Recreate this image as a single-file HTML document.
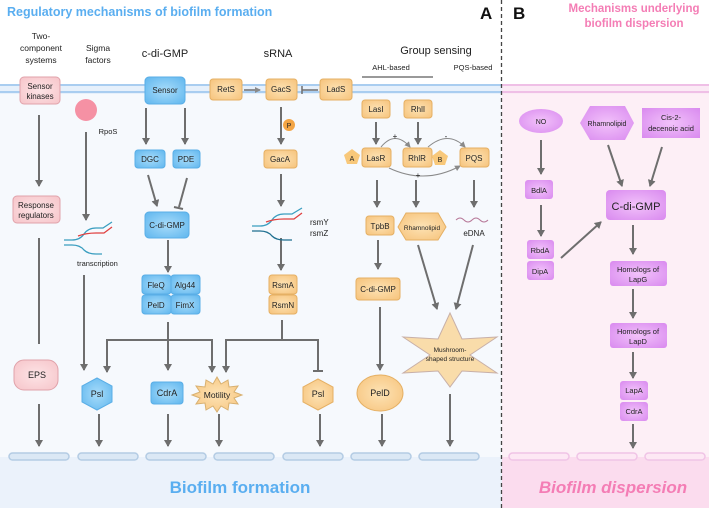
<!DOCTYPE html>
<html><head><meta charset="utf-8"><style>
html,body{margin:0;padding:0;width:709px;height:508px;overflow:hidden;background:#fff}
svg{display:block;font-family:"Liberation Sans",sans-serif}
</style></head><body>
<svg width="709" height="508" viewBox="0 0 709 508" xmlns="http://www.w3.org/2000/svg">
<defs>
<marker id="ar" markerWidth="8" markerHeight="8" refX="6" refY="4" orient="auto" markerUnits="userSpaceOnUse"><path d="M0,0 L7,4 L0,8 Z" fill="#6e6e6e"/></marker>
<marker id="ars" markerWidth="6" markerHeight="6" refX="5" refY="3" orient="auto" markerUnits="userSpaceOnUse"><path d="M0,0 L6,3 L0,6 Z" fill="#8a8a8a"/></marker>
<radialGradient id="gb" cx="50%" cy="50%" r="70%"><stop offset="0" stop-color="#a8dcfa"/><stop offset="1" stop-color="#5fb6ee"/></radialGradient>
<radialGradient id="go" cx="50%" cy="50%" r="70%"><stop offset="0" stop-color="#fde3b5"/><stop offset="1" stop-color="#f6c27a"/></radialGradient>
<radialGradient id="gv" cx="50%" cy="50%" r="70%"><stop offset="0" stop-color="#f2c2fa"/><stop offset="1" stop-color="#d98aef"/></radialGradient>
<radialGradient id="gp" cx="50%" cy="50%" r="70%"><stop offset="0" stop-color="#fde4e6"/><stop offset="1" stop-color="#f6c4c9"/></radialGradient>
</defs>
<!-- backgrounds -->
<rect x="0" y="0" width="502" height="508" fill="#f6f9fd"/>
<rect x="0" y="457" width="502" height="51" fill="#ebf2fb"/>
<rect x="502" y="0" width="207" height="508" fill="#fdeff6"/>
<rect x="502" y="457" width="207" height="51" fill="#fbdcee"/>
<rect x="0" y="0" width="502" height="84" fill="#fff"/>
<rect x="502" y="0" width="207" height="84" fill="#fff"/>
<!-- membrane -->
<rect x="0" y="84" width="502" height="10" fill="#e6f0fb"/>
<line x1="0" y1="85" x2="502" y2="85" stroke="#a9cdf0" stroke-width="2"/>
<line x1="0" y1="92" x2="502" y2="92" stroke="#a9cdf0" stroke-width="2"/>
<rect x="502" y="84" width="207" height="10" fill="#fbeaf5"/>
<line x1="502" y1="85" x2="709" y2="85" stroke="#efbfe6" stroke-width="2"/>
<line x1="502" y1="92" x2="709" y2="92" stroke="#efbfe6" stroke-width="2"/>
<line x1="501.5" y1="0" x2="501.5" y2="508" stroke="#444" stroke-width="1.3" stroke-dasharray="4,3"/>

<!-- titles -->
<text x="7" y="16" font-size="12.5" font-weight="bold" fill="#5aaef0">Regulatory mechanisms of biofilm formation</text>
<text x="480" y="19" font-size="17" font-weight="bold" fill="#111">A</text>
<text x="513" y="19" font-size="17" font-weight="bold" fill="#111">B</text>
<text x="634" y="12" font-size="11.5" font-weight="bold" fill="#f47db5" text-anchor="middle">Mechanisms underlying</text>
<text x="634" y="27" font-size="11.5" font-weight="bold" fill="#f47db5" text-anchor="middle">biofilm dispersion</text>

<g font-size="8.5" fill="#222" text-anchor="middle">
<text x="41" y="39">Two-</text><text x="41" y="51">component</text><text x="41" y="63">systems</text>
<text x="98" y="51">Sigma</text><text x="98" y="63">factors</text>
<text x="165" y="57" font-size="11">c-di-GMP</text>
<text x="278" y="57" font-size="11">sRNA</text>
<text x="436" y="54" font-size="11">Group sensing</text>
<text x="391" y="70" font-size="7.5">AHL-based</text>
<text x="473" y="70" font-size="7.5">PQS-based</text>
</g>
<line x1="362" y1="77" x2="433" y2="77" stroke="#333" stroke-width="1"/>

<!-- arrows -->
<g stroke="#6e6e6e" stroke-width="2" fill="none">
<line x1="39" y1="115" x2="39" y2="186" marker-end="url(#ar)"/>
<line x1="39" y1="238" x2="39" y2="344"/>
<line x1="86" y1="132" x2="86" y2="220" marker-end="url(#ar)"/>
<line x1="84" y1="275" x2="84" y2="370" marker-end="url(#ar)"/>
<line x1="146" y1="108" x2="146" y2="144" marker-end="url(#ar)"/>
<line x1="185" y1="108" x2="185" y2="144" marker-end="url(#ar)"/>
<line x1="148" y1="175" x2="157" y2="206" marker-end="url(#ar)"/>
<line x1="187" y1="178" x2="179" y2="207"/>
<line x1="174" y1="207" x2="183" y2="209"/>
<line x1="168" y1="240" x2="168" y2="272" marker-end="url(#ar)"/>
<line x1="168" y1="322" x2="168" y2="370" marker-end="url(#ar)"/>
<polyline points="107,370 107,340 212,340 212,370"/>
<line x1="107" y1="362" x2="107" y2="372" marker-end="url(#ar)"/>
<line x1="212" y1="362" x2="212" y2="372" marker-end="url(#ar)"/>
<polyline points="282,320 282,340"/>
<polyline points="226,370 226,340 318,340 318,370"/>
<line x1="226" y1="362" x2="226" y2="372" marker-end="url(#ar)"/>
<line x1="313" y1="371" x2="323" y2="371"/>
<line x1="244" y1="90" x2="260" y2="90" stroke-width="1.5" marker-end="url(#ars)"/>
<line x1="302" y1="90" x2="318" y2="90" stroke-width="1.5"/>
<line x1="302" y1="86" x2="302" y2="94" stroke-width="1.5"/>
<line x1="281" y1="107" x2="281" y2="144" marker-end="url(#ar)"/>
<line x1="281" y1="174" x2="281" y2="206" marker-end="url(#ar)"/>
<line x1="281" y1="238" x2="281" y2="270" marker-end="url(#ar)"/>
<line x1="376" y1="122" x2="376" y2="144" marker-end="url(#ar)"/>
<line x1="418" y1="122" x2="418" y2="144" marker-end="url(#ar)"/>
<line x1="377" y1="180" x2="377" y2="207" marker-end="url(#ar)"/>
<line x1="416" y1="180" x2="416" y2="207" marker-end="url(#ar)"/>
<line x1="474" y1="180" x2="474" y2="207" marker-end="url(#ar)"/>
<line x1="378" y1="240" x2="378" y2="269" marker-end="url(#ar)"/>
<line x1="380" y1="307" x2="380" y2="370" marker-end="url(#ar)"/>
<line x1="418" y1="245" x2="437" y2="309" marker-end="url(#ar)"/>
<line x1="473" y1="245" x2="456" y2="309" marker-end="url(#ar)"/>
<!-- lower arrows -->
<line x1="39" y1="404" x2="39" y2="446" marker-end="url(#ar)"/>
<line x1="99" y1="414" x2="99" y2="446" marker-end="url(#ar)"/>
<line x1="168" y1="414" x2="168" y2="446" marker-end="url(#ar)"/>
<line x1="219" y1="414" x2="219" y2="446" marker-end="url(#ar)"/>
<line x1="320" y1="414" x2="320" y2="446" marker-end="url(#ar)"/>
<line x1="382" y1="414" x2="382" y2="446" marker-end="url(#ar)"/>
<line x1="450" y1="394" x2="450" y2="446" marker-end="url(#ar)"/>
<!-- right panel -->
<line x1="541" y1="140" x2="541" y2="174" marker-end="url(#ar)"/>
<line x1="541" y1="205" x2="541" y2="236" marker-end="url(#ar)"/>
<line x1="561" y1="258" x2="601" y2="222" marker-end="url(#ar)"/>
<line x1="608" y1="145" x2="622" y2="186" marker-end="url(#ar)"/>
<line x1="662" y1="147" x2="650" y2="186" marker-end="url(#ar)"/>
<line x1="633" y1="225" x2="633" y2="254" marker-end="url(#ar)"/>
<line x1="633" y1="289" x2="633" y2="318" marker-end="url(#ar)"/>
<line x1="633" y1="352" x2="633" y2="378" marker-end="url(#ar)"/>
<line x1="633" y1="424" x2="633" y2="448" marker-end="url(#ar)"/>
</g>
<!-- curved QS arrows -->
<g stroke="#8a8a8a" stroke-width="1" fill="none">
<path d="M381,147 Q395,130 410,147" marker-end="url(#ars)"/>
<path d="M428,147 Q448,130 465,147" marker-end="url(#ars)"/>
<path d="M389,168 Q425,185 460,166" marker-end="url(#ars)"/>
</g>
<g font-size="8" fill="#222" text-anchor="middle"><text x="395" y="139">+</text><text x="446" y="139">-</text><text x="418" y="178">+</text></g>

<!-- nodes -->
<g font-size="8" fill="#222" text-anchor="middle">
<rect x="20" y="77" width="40" height="27" rx="4" fill="url(#gp)" stroke="#e0a2aa"/>
<text x="40" y="89">Sensor</text><text x="40" y="99">kinases</text>
<circle cx="86" cy="110" r="11" fill="#f591a4"/>
<text x="108" y="134" font-size="7.5">RpoS</text>
<rect x="13" y="196" width="47" height="27" rx="4" fill="url(#gp)" stroke="#e0a2aa"/>
<text x="36" y="208">Response</text><text x="36" y="218">regulators</text>

<rect x="145" y="77" width="40" height="27" rx="4" fill="url(#gb)" stroke="#5aaee6"/>
<text x="165" y="93">Sensor</text>
<rect x="135" y="150" width="30" height="18" rx="3" fill="url(#gb)" stroke="#5aaee6"/><text x="150" y="162">DGC</text>
<rect x="173" y="150" width="27" height="18" rx="3" fill="url(#gb)" stroke="#5aaee6"/><text x="186" y="162">PDE</text>
<rect x="145" y="212" width="44" height="26" rx="4" fill="url(#gb)" stroke="#5aaee6"/><text x="167" y="228">C-di-GMP</text>
<rect x="142" y="275" width="29" height="19" rx="3" fill="url(#gb)" stroke="#5aaee6"/><text x="156" y="288">FleQ</text>
<rect x="171" y="275" width="29" height="19" rx="3" fill="url(#gb)" stroke="#5aaee6"/><text x="185" y="288">Alg44</text>
<rect x="142" y="295" width="29" height="19" rx="3" fill="url(#gb)" stroke="#5aaee6"/><text x="156" y="308">PelD</text>
<rect x="171" y="295" width="29" height="19" rx="3" fill="url(#gb)" stroke="#5aaee6"/><text x="185" y="308">FimX</text>

<rect x="210" y="79" width="32" height="21" rx="3" fill="url(#go)" stroke="#e5b064"/><text x="226" y="92">RetS</text>
<rect x="266" y="79" width="31" height="21" rx="3" fill="url(#go)" stroke="#e5b064"/><text x="281" y="92">GacS</text>
<rect x="320" y="79" width="32" height="21" rx="3" fill="url(#go)" stroke="#e5b064"/><text x="336" y="92">LadS</text>
<circle cx="289" cy="125" r="6" fill="#f3a545"/><text x="289" y="128" font-size="7">P</text>
<rect x="264" y="150" width="33" height="18" rx="3" fill="url(#go)" stroke="#e5b064"/><text x="280" y="162">GacA</text>
<text x="310" y="225" text-anchor="start">rsmY</text><text x="310" y="236" text-anchor="start">rsmZ</text>
<rect x="269" y="275" width="28" height="19" rx="3" fill="url(#go)" stroke="#e5b064"/><text x="283" y="288">RsmA</text>
<rect x="269" y="295" width="28" height="19" rx="3" fill="url(#go)" stroke="#e5b064"/><text x="283" y="308">RsmN</text>

<rect x="362" y="100" width="28" height="18" rx="3" fill="url(#go)" stroke="#e5b064"/><text x="376" y="112">LasI</text>
<rect x="404" y="100" width="28" height="18" rx="3" fill="url(#go)" stroke="#e5b064"/><text x="418" y="112">RhlI</text>
<polygon points="352,149 360,155 357,164 347,164 344,155" fill="#f8c87a"/><text x="352" y="161" font-size="7">A</text>
<rect x="362" y="148" width="29" height="19" rx="3" fill="url(#go)" stroke="#e5b064"/><text x="376" y="161">LasR</text>
<rect x="403" y="148" width="29" height="19" rx="3" fill="url(#go)" stroke="#e5b064"/><text x="417" y="161">RhlR</text>
<polygon points="440,150 448,156 445,165 435,165 432,156" fill="#f8c87a"/><text x="440" y="162" font-size="7">B</text>
<rect x="460" y="148" width="29" height="19" rx="3" fill="url(#go)" stroke="#e5b064"/><text x="474" y="161">PQS</text>
<rect x="366" y="216" width="28" height="19" rx="3" fill="url(#go)" stroke="#e5b064"/><text x="380" y="229">TpbB</text>
<polygon points="398,227 406,213 438,213 446,227 438,240 406,240" fill="url(#go)" stroke="#e5b064"/><text x="422" y="230" font-size="6.5">Rhamnolipid</text>
<path d="M456,220 q4,-4 8,0 t8,0 t8,0 t8,0" stroke="#b87a9a" stroke-width="1" fill="none"/>
<text x="474" y="236">eDNA</text>
<rect x="356" y="278" width="44" height="22" rx="3" fill="url(#go)" stroke="#e5b064"/><text x="378" y="292">C-di-GMP</text>
<polygon points="450,313 462,339 497,337 470,355 497,373 462,371 450,387 438,371 403,373 430,355 403,337 438,339" fill="#f9dcaa" stroke="#c8b0a8"/>
<text x="450" y="352" font-size="6.5">Mushroom-</text><text x="450" y="361" font-size="6.5">shaped structure</text>

<rect x="14" y="360" width="44" height="30" rx="10" fill="url(#gp)" stroke="#e0a2aa"/><text x="37" y="378" font-size="9">EPS</text>
<polygon points="97,378 112,386 112,402 97,410 82,402 82,386" fill="url(#gb)" stroke="#5aaee6"/><text x="97" y="397" font-size="9">Psl</text>
<rect x="151" y="382" width="32" height="22" rx="3" fill="url(#gb)" stroke="#5aaee6"/><text x="167" y="396" font-size="9">CdrA</text>
<polygon points="217,377 221,384 228,380 229,387 238,386 234,392 242,395 234,398 238,404 229,403 228,410 221,406 217,412 213,406 206,410 205,403 196,404 200,398 192,395 200,392 196,386 205,387 206,380 213,384" fill="url(#go)" stroke="#d8b070"/>
<text x="217" y="398" font-size="8.5">Motility</text>
<polygon points="318,379 333,387 333,402 318,410 303,402 303,387" fill="url(#go)" stroke="#e5b064"/><text x="318" y="397" font-size="9">Psl</text>
<ellipse cx="380" cy="393" rx="23" ry="18" fill="url(#go)" stroke="#e5b064"/><text x="380" y="396" font-size="9">PelD</text>

<!-- right panel nodes -->
<ellipse cx="541" cy="121" rx="22" ry="12" fill="url(#gv)"/><text x="541" y="124" font-size="7">NO</text>
<polygon points="580,123 590,106 625,106 634,123 625,140 590,140" fill="url(#gv)"/><text x="607" y="126" font-size="7">Rhamnolipid</text>
<rect x="642" y="108" width="58" height="30" fill="url(#gv)"/><text x="671" y="120" font-size="7.5">Cis-2-</text><text x="671" y="131" font-size="7.5">decenoic acid</text>
<rect x="525" y="180" width="28" height="19" rx="3" fill="url(#gv)"/><text x="539" y="193" font-size="7.5">BdlA</text>
<rect x="527" y="240" width="27" height="19" rx="3" fill="url(#gv)"/><text x="540" y="253" font-size="7.5">RbdA</text>
<rect x="527" y="261" width="27" height="19" rx="3" fill="url(#gv)"/><text x="540" y="274" font-size="7.5">DipA</text>
<rect x="606" y="190" width="60" height="30" rx="4" fill="url(#gv)"/><text x="636" y="210" font-size="11">C-di-GMP</text>
<rect x="610" y="261" width="57" height="25" rx="3" fill="url(#gv)"/><text x="638" y="272" font-size="7.5">Homologs of</text><text x="638" y="282" font-size="7.5">LapG</text>
<rect x="610" y="323" width="57" height="25" rx="3" fill="url(#gv)"/><text x="638" y="334" font-size="7.5">Homologs of</text><text x="638" y="344" font-size="7.5">LapD</text>
<rect x="620" y="381" width="28" height="19" rx="3" fill="url(#gv)"/><text x="634" y="393" font-size="7.5">LapA</text>
<rect x="620" y="402" width="28" height="19" rx="3" fill="url(#gv)"/><text x="634" y="414" font-size="7.5">CdrA</text>
</g>
<text x="77" y="266" font-size="7.5" fill="#222">transcription</text>

<!-- DNA graphics -->
<g fill="none" stroke-width="1.3">
<path d="M64,240 L72,240 Q80,240 84,234 Q88,228 96,228 L103,228 L112,222" stroke="#3a9ec0"/>
<path d="M78,236 Q86,233 96,233 L104,233 L112,227" stroke="#e04040"/>
<path d="M64,245 L72,245 Q80,245 84,250 Q88,254 96,254 L102,254" stroke="#3a9ec0"/>
<path d="M252,226 L260,226 Q268,226 272,220 Q276,214 284,214 L292,214 L302,208" stroke="#3a9ec0"/>
<path d="M266,222 Q274,219 284,219 L294,219 L302,213" stroke="#e04040"/>
<path d="M252,231 L260,231 Q268,231 272,236 Q276,240 284,240 L292,240" stroke="#1f6f90"/>
</g>

<!-- pills -->
<g fill="#dbe8f5" stroke="#b4cce4" stroke-width="1.5">
<rect x="9" y="453" width="60" height="7" rx="3.5"/><rect x="78" y="453" width="60" height="7" rx="3.5"/>
<rect x="146" y="453" width="60" height="7" rx="3.5"/><rect x="214" y="453" width="60" height="7" rx="3.5"/>
<rect x="283" y="453" width="60" height="7" rx="3.5"/><rect x="351" y="453" width="60" height="7" rx="3.5"/>
<rect x="419" y="453" width="60" height="7" rx="3.5"/>
</g>
<g fill="#fde8f4" stroke="#f0c4e6" stroke-width="1.5">
<rect x="509" y="453" width="60" height="7" rx="3.5"/><rect x="577" y="453" width="60" height="7" rx="3.5"/><rect x="645" y="453" width="60" height="7" rx="3.5"/>
</g>
<text x="240" y="493" font-size="17" font-weight="bold" fill="#5aaef0" text-anchor="middle">Biofilm formation</text>
<text x="613" y="493" font-size="17" font-weight="bold" font-style="italic" fill="#f47db5" text-anchor="middle">Biofilm dispersion</text>
</svg>
</body></html>
